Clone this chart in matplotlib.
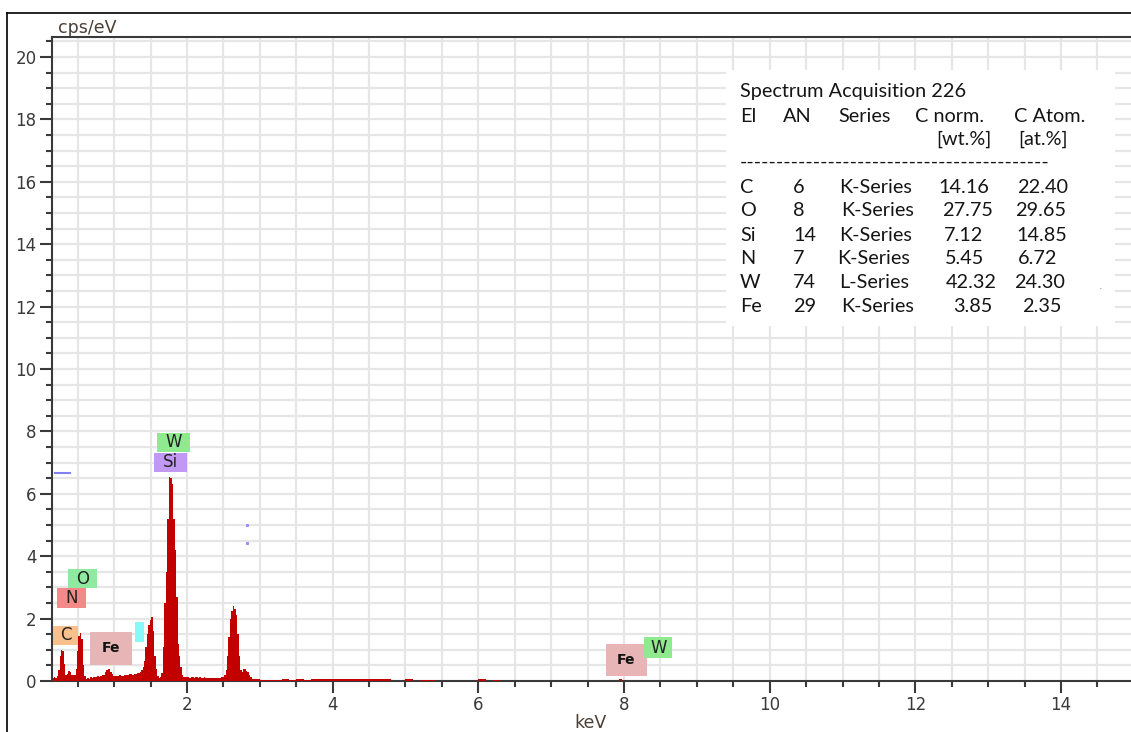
import matplotlib.pyplot as plt
import numpy as np
from matplotlib.patches import Rectangle
from matplotlib.lines import Line2D
from matplotlib.ticker import MultipleLocator

# EDS spectrum, 0.02 keV channels starting at 0.16 keV (cps/eV)
start_kev = 0.16
step_kev = 0.02
cps = [0.10, 0.12, 0.10, 0.15, 0.35, 0.80, 1.00, 0.95, 0.55, 0.20,   # 0.16 - 0.34
       0.22, 0.32, 0.30, 0.20, 0.18, 0.20, 0.40, 0.95, 1.45, 1.55,   # 0.36 - 0.54
       1.35, 0.50, 0.15, 0.08, 0.10, 0.08, 0.12, 0.10, 0.12, 0.14,   # 0.56 - 0.74
       0.12, 0.15, 0.14, 0.16, 0.18, 0.20, 0.28, 0.35, 0.38, 0.37,   # 0.76 - 0.94
       0.30, 0.22, 0.16, 0.15, 0.17, 0.16, 0.18, 0.16, 0.17, 0.19,   # 0.96 - 1.14
       0.18, 0.20, 0.18, 0.21, 0.22, 0.20, 0.23, 0.24, 0.25, 0.26,   # 1.16 - 1.34
       0.28, 0.35, 0.45, 0.65, 1.10, 1.50, 1.80, 1.95, 2.05, 1.60,   # 1.36 - 1.54
       0.80, 0.40, 0.15, 0.10, 0.12, 0.25, 1.10, 2.50, 3.50, 5.20,   # 1.56 - 1.74
       6.55, 6.50, 6.30, 5.20, 4.20, 2.70, 1.20, 0.80, 0.45, 0.20,   # 1.76 - 1.94
       0.13, 0.12, 0.14, 0.12, 0.11, 0.13, 0.12, 0.10, 0.12, 0.13,   # 1.96 - 2.14
       0.11, 0.12, 0.10, 0.11, 0.12, 0.10, 0.11, 0.09, 0.10, 0.11,   # 2.16 - 2.34
       0.10, 0.09, 0.10, 0.09, 0.10, 0.11, 0.12, 0.14, 0.20, 0.35,   # 2.36 - 2.54
       0.80, 1.40, 2.00, 2.25, 2.40, 2.30, 2.10, 1.50, 0.80, 0.35,   # 2.56 - 2.74
       0.30, 0.40, 0.38, 0.33, 0.28, 0.18, 0.12, 0.08, 0.06, 0.05,   # 2.76 - 2.94
       0.05, 0.06, 0.05]                                              # 2.96 - 3.00

# sparse high-energy counts, 0.1 keV bins starting at 3.05 keV
tail_start = 3.05
tail_step = 0.1
tail_cps = [0.04, 0.03, 0.04, 0.07, 0.04, 0.05, 0.04, 0.06, 0.05, 0.06,
            0.05, 0.06, 0.05, 0.06, 0.05, 0.06, 0.05, 0.05, 0.00, 0.00,
            0.05, 0.00, 0.04, 0.04, 0.00, 0.00, 0.00, 0.00, 0.00, 0.00,
            0.05, 0.00, 0.04, 0.00]
fek_kev = [7.95]
fek_cps = [0.07]

# element labels: text, keV left/right, cps bottom/top, colour, bold
marker_text = ["W", "Si", "O", "N", "C", "Fe", "", "Fe", "W"]
marker_kev = [(1.584, 2.041), (1.547, 1.996), (0.362, 0.769), (0.220, 0.609),
              (0.165, 0.508), (0.668, 1.241), (1.286, 1.410), (7.746, 8.320),
              (8.279, 8.660)]
marker_cps = [(7.34, 7.95), (6.70, 7.31), (2.98, 3.59), (2.34, 2.98),
              (1.15, 1.77), (0.51, 1.58), (1.25, 1.89), (0.16, 1.19),
              (0.73, 1.40)]
marker_col = ["#8fe98f", "#c299f2", "#8fe9a0", "#f28a8a", "#f7c08c",
              "#e7b5b5", "#88f8f8", "#e7b5b5", "#8fe98f"]
marker_bold = [False, False, False, False, False, True, False, True, False]

# quantification table
table_title = "Spectrum Acquisition 226"
table_header = ["El", "AN", "Series", "C norm.", "C Atom."]
table_units = ["[wt.%]", "[at.%]"]
elements = ["C", "O", "Si", "N", "W", "Fe"]
atomic_no = ["6", "8", "14", "7", "74", "29"]
series = ["K-Series", "K-Series", "K-Series", "K-Series", "L-Series", "K-Series"]
wt_pct = ["14.16", "27.75", "7.12", "5.45", "42.32", "3.85"]
at_pct = ["22.40", "29.65", "14.85", "6.72", "24.30", "2.35"]

W, H = 1131, 732
red = "#c20000"
axis_col = "#3a3a3a"


def px(x, y):
    return x / W, 1 - y / H


fig = plt.figure(figsize=(W / 100, H / 100), dpi=100)
ax = fig.add_axes([52 / W, (H - 681) / H, (W - 52) / W, (681 - 37) / H])

kev = np.round(start_kev + step_kev * np.arange(len(cps)), 2)
ax.fill_between(kev, cps, 0, step="mid", color=red, lw=0, zorder=3)
tail_kev = tail_start + tail_step * np.arange(len(tail_cps))
ax.bar(tail_kev, tail_cps, width=tail_step, color=red, lw=0, zorder=3)
ax.bar(fek_kev, fek_cps, width=0.04, color=red, lw=0, zorder=3)

ax.set_xlim(0.147, 14.96)
ax.set_ylim(0, 20.64)

ax.xaxis.set_major_locator(MultipleLocator(2))
ax.xaxis.set_minor_locator(MultipleLocator(0.5))
ax.yaxis.set_major_locator(MultipleLocator(2))
ax.yaxis.set_minor_locator(MultipleLocator(0.5))
ax.grid(which="both", color="#e6e6e6", lw=1.6, zorder=0)
ax.set_axisbelow(True)

ax.tick_params(which="major", length=8.5, width=1.5, color=axis_col,
               labelsize=12, labelcolor="#3a3a3a", pad=2.5)
ax.tick_params(which="minor", length=4.5, width=1.5, color=axis_col)
ax.spines["right"].set_visible(False)
for s in ["left", "bottom", "top"]:
    ax.spines[s].set_color(axis_col)
    ax.spines[s].set_linewidth(1.5)

# element marker boxes
for txt, (k0, k1), (c0, c1), col, bold in zip(marker_text, marker_kev, marker_cps,
                                              marker_col, marker_bold):
    ax.add_patch(Rectangle((k0, c0), k1 - k0, c1 - c0, color=col, lw=0, zorder=4))
    if txt:
        ax.text((k0 + k1) / 2, (c0 + c1) / 2, txt, ha="center", va="center",
                fontsize=10 if bold else 12, fontweight="bold" if bold else "normal",
                color="#222222" if not bold else "#111111", zorder=5)

# small stray marks from the acquisition software
ax.plot([0.19, 0.394], [6.67, 6.67], color="#8080ff", lw=1.5, zorder=4)
ax.plot([2.82, 2.82], [5.0, 4.42], ls="none", marker="s", ms=1.2, color="#9090ff", zorder=4)

fig.text(*px(58, 28), "cps/eV", fontsize=12.5, color="#4a4036", va="center", ha="left")
fig.text(*px(591, 723), "keV", fontsize=12.5, color="#4a4036", va="center", ha="center")

# outer frame
fig.add_artist(Line2D([7 / W, 7 / W], [0, 1 - 13 / H], color="black", lw=1.2))
fig.add_artist(Line2D([7 / W, 1], [1 - 13 / H, 1 - 13 / H], color="black", lw=1.2))

# quantification table
fig.add_artist(Rectangle(px(726, 326), (1115 - 726) / W, (326 - 70) / H,
                         transform=fig.transFigure, color="white", lw=0, zorder=2))
tfont = dict(fontsize=14.3, family="Lato", color="#151515", va="baseline", ha="left", zorder=3)
fig.text(*px(740, 97), table_title, **tfont)
for x, t in zip([740, 783, 838, 915, 1014], table_header):
    fig.text(*px(x, 122.5), t, **tfont)
for x, t in zip([936, 1018], table_units):
    fig.text(*px(x, 145), t, **tfont)
fig.text(*px(740, 168), "-" * 42, **tfont)

row_base = [193, 216.5, 241, 264, 288.5, 311.5]
col_x = [[740, 793, 839, 938, 1017],
         [740, 793, 841, 942, 1015],
         [740, 793, 839, 944, 1016],
         [740, 793, 837, 945, 1018],
         [740, 793, 839, 946, 1014],
         [740, 793, 841, 953, 1022]]
for i, y in enumerate(row_base):
    vals = [elements[i], atomic_no[i], series[i], wt_pct[i], at_pct[i]]
    for x, t in zip(col_x[i], vals):
        fig.text(*px(x, y), t, **tfont)
fig.text(*px(1099, 289), ".", fontsize=8, color="#888888", zorder=3)

fig.savefig("out.png", dpi=100)
